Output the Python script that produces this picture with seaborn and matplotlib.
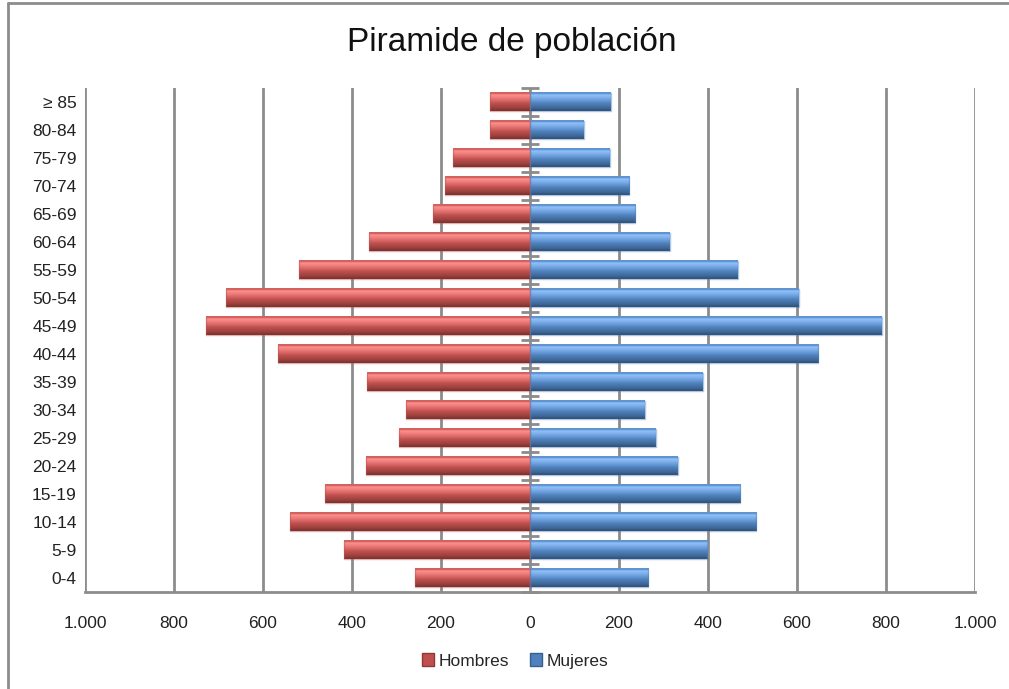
import numpy as np
import pandas as pd
import matplotlib
matplotlib.use("Agg")
import matplotlib.pyplot as plt
import matplotlib.colors as mcolors
from matplotlib.lines import Line2D
from matplotlib.patches import Patch
import seaborn as sns

# ---- data ----
age_groups = ["≥ 85", "80-84", "75-79", "70-74", "65-69", "60-64", "55-59", "50-54",
              "45-49", "40-44", "35-39", "30-34", "25-29", "20-24", "15-19", "10-14",
              "5-9", "0-4"]
hombres = [90, 91, 172, 191, 217, 361, 519, 684, 729, 567, 366, 278, 294, 369, 461, 540, 417, 258]
mujeres = [182, 121, 179, 223, 237, 314, 467, 604, 791, 648, 388, 258, 283, 332, 473, 508, 398, 266]
x_ticks = [-1000, -800, -600, -400, -200, 0, 200, 400, 600, 800, 1000]
x_tick_labels = ["1.000", "800", "600", "400", "200", "0", "200", "400", "600", "800", "1.000"]
title = "Piramide de población"
series_names = ["Hombres", "Mujeres"]

df = pd.DataFrame({
    "grupo": age_groups * 2,
    "valor": [-v for v in hombres] + list(mujeres),
    "sexo": [series_names[0]] * len(age_groups) + [series_names[1]] * len(age_groups),
})

sns.set_theme(style="white")
plt.rcParams["font.family"] = ["Liberation Sans", "DejaVu Sans"]

W, H = 1009, 689
fig = plt.figure(figsize=(W / 100, H / 100), dpi=100)
ax = fig.add_axes([85 / W, 1 - 592 / H, (975 - 85) / W, (592 - 88) / H])

red = "#C0504D"
blue = "#4F81BD"
sns.barplot(data=df, x="valor", y="grupo", hue="sexo", order=age_groups,
            hue_order=series_names, palette=[red, blue], orient="h", saturation=1,
            dodge=False, width=0.67, ax=ax, legend=False)

# bevel-like shading over each bar
def grad_cmap(base):
    c = np.array(mcolors.to_rgb(base))
    light = np.clip(c + 0.25, 0, 1)
    dark = c * 0.6
    return mcolors.LinearSegmentedColormap.from_list(
        "g", [(0.0, np.clip(c + 0.05, 0, 1)), (0.15, light), (0.35, np.clip(c + 0.15, 0, 1)),
              (0.6, c), (0.85, c * 0.8), (1.0, dark)])

base_cols = {mcolors.to_hex(red): red, mcolors.to_hex(blue): blue}
cmaps = {k: grad_cmap(v) for k, v in base_cols.items()}
grad = np.linspace(0, 1, 64).reshape(-1, 1)
for p in list(ax.patches):
    fc = mcolors.to_hex(p.get_facecolor()[:3])
    p.set_zorder(3)
    if fc not in cmaps:
        continue
    x0, y0, w, h = p.get_x(), p.get_y(), p.get_width(), p.get_height()
    if w == 0:
        continue
    xl, xr = min(x0, x0 + w), max(x0, x0 + w)
    yt, yb = min(y0, y0 + h), max(y0, y0 + h)
    ax.imshow(grad, cmap=cmaps[fc], aspect="auto", extent=(xl, xr, yb, yt),
              zorder=3.5, interpolation="bilinear")
    p.set_facecolor("none")
    p.set_edgecolor(mcolors.to_rgba(base_cols[fc], 0.45))
    p.set_linewidth(1.0)
    p.set_zorder(3.6)

ax.set_xlim(-1000, 1000)
ax.set_ylim(len(age_groups) - 0.5, -0.5)

# grid lines
for t in x_ticks:
    if t != 0:
        ax.axvline(t, color="#8C8C8C", lw=2, zorder=1)
# central axis with category-boundary ticks
ax.axvline(0, color="#8C8C8C", lw=2, zorder=2)
bounds = np.arange(len(age_groups) + 1) - 0.5
ax.plot(np.zeros_like(bounds), bounds, ls="none", marker="_", ms=13, mew=2,
        color="#8C8C8C", zorder=2, clip_on=False)

for s in ["top", "right", "left"]:
    ax.spines[s].set_visible(False)
ax.spines["bottom"].set_color("#8C8C8C")
ax.spines["bottom"].set_linewidth(2)

ax.set_xticks(x_ticks)
ax.set_xticklabels(x_tick_labels, fontsize=12.5, color="#222222")
ax.tick_params(axis="x", length=7, width=2, color="#8C8C8C", pad=10, direction="out")
ax.tick_params(axis="y", length=0, pad=6, labelsize=12.5, labelcolor="#222222")
ax.set_xlabel("")
ax.set_ylabel("")

fig.text(512 / W, 1 - 42 / H, title, ha="center", va="center", fontsize=24, color="#111111")

handles = [Patch(facecolor=red, edgecolor="#8a3a38"), Patch(facecolor=blue, edgecolor="#35608f")]
fig.legend(handles, series_names, loc="center", bbox_to_anchor=(515 / W, 1 - 661 / H),
           ncol=2, frameon=False, fontsize=12.5, handlelength=0.7, handleheight=0.7,
           handletextpad=0.25, columnspacing=1.2)

# chart border
fig.add_artist(Line2D([8 / W, 8 / W], [0, 1 - 3 / H], color="#8C8C8C", lw=2, transform=fig.transFigure))
fig.add_artist(Line2D([8 / W, 1], [1 - 3 / H, 1 - 3 / H], color="#8C8C8C", lw=2, transform=fig.transFigure))

fig.savefig("out.png", dpi=100)
